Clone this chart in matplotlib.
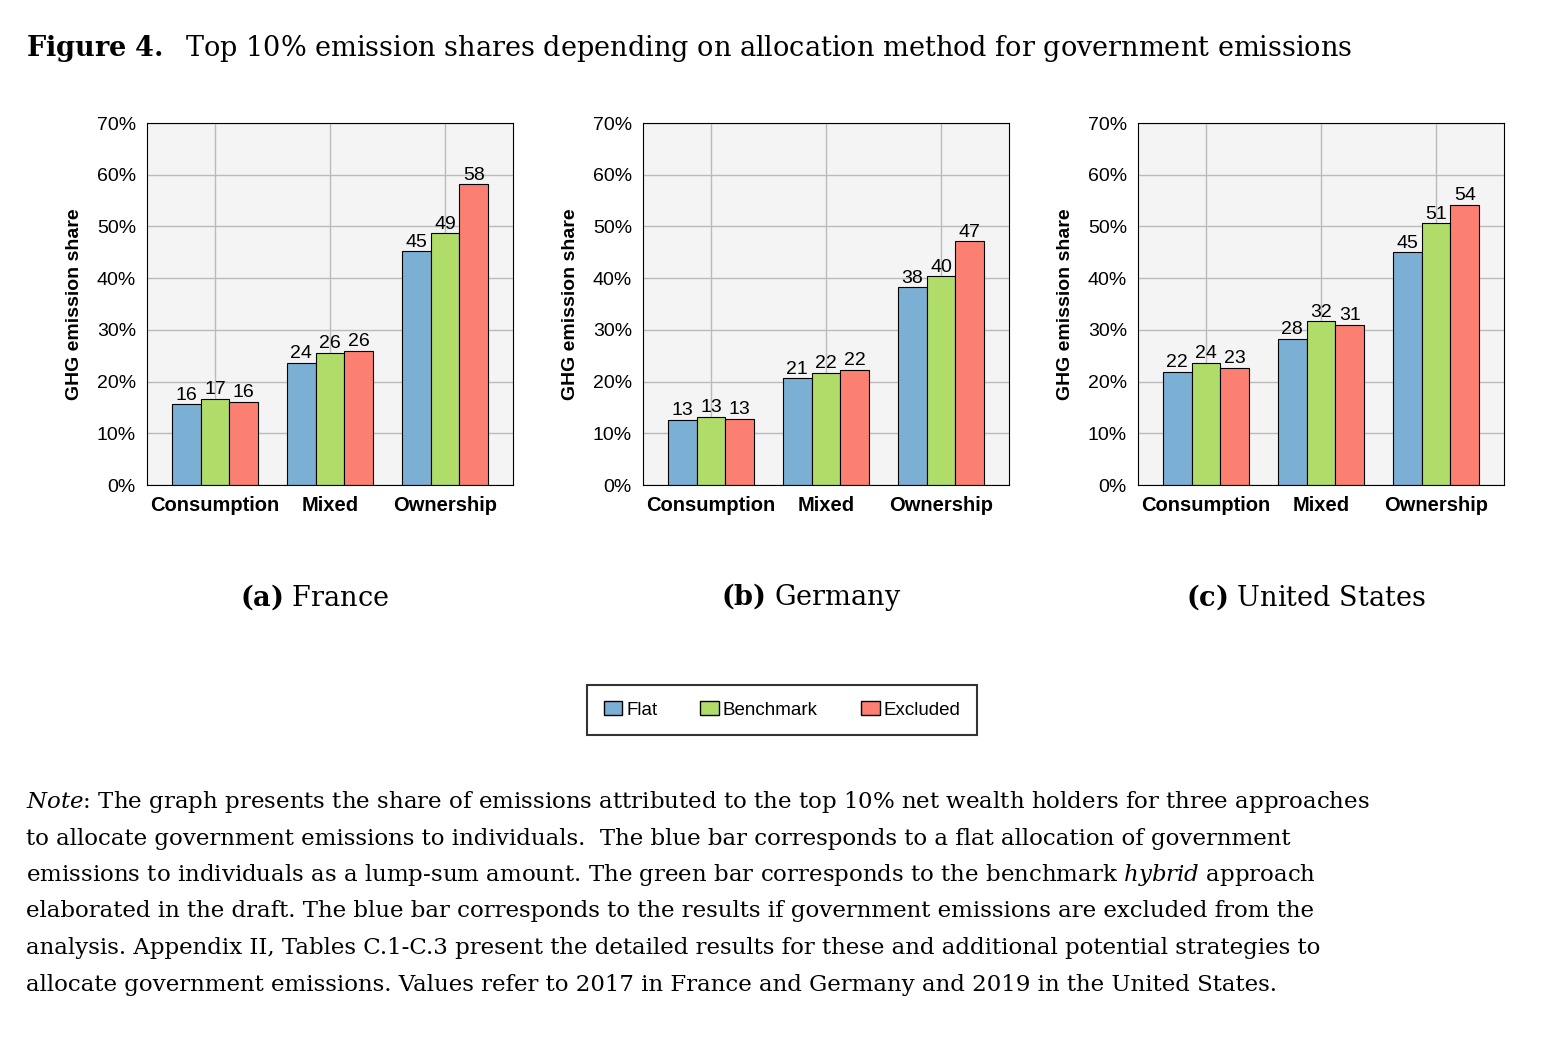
import matplotlib
matplotlib.use('Agg')
import matplotlib.pyplot as plt
import numpy as np
from matplotlib.patches import Patch

categories = ['Consumption', 'Mixed', 'Ownership']
series = ['Flat', 'Benchmark', 'Excluded']
colors = ['#7bafd4', '#b0dd6a', '#fb8072']
panels = ['France', 'Germany', 'United States']
panel_tags = ['(a)', '(b)', '(c)']

france = [[15.6, 23.6, 45.2], [16.7, 25.6, 48.7], [16.1, 26.0, 58.2]]
germany = [[12.6, 20.6, 38.2], [13.2, 21.7, 40.4], [12.8, 22.3, 47.1]]
usa = [[21.9, 28.3, 45.0], [23.6, 31.7, 50.6], [22.7, 31.0, 54.2]]
data = [france, germany, usa]

sans = 'Liberation Sans'
serif = 'DejaVu Serif'
plt.rcParams['mathtext.fontset'] = 'custom'
plt.rcParams['mathtext.rm'] = 'DejaVu Serif'
plt.rcParams['mathtext.it'] = 'DejaVu Serif:italic'
plt.rcParams['mathtext.bf'] = 'DejaVu Serif:bold'

fig = plt.figure(figsize=(15.56, 10.48), dpi=100)
lefts = [147, 643, 1138]
x = np.arange(len(categories))
w = 0.25
for k, vals in enumerate(data):
    ax = fig.add_axes([lefts[k]/1556, 1-485/1048, 366/1556, 362/1048])
    ax.set_facecolor('#f4f4f4')
    ax.set_axisbelow(True)
    ax.grid(True, color='#bbbbbb', linewidth=1)
    for i, s in enumerate(vals):
        bars = ax.bar(x + (i-1)*w, s, w, color=colors[i], edgecolor='black', linewidth=0.8)
        for b, v in zip(bars, s):
            ax.text(b.get_x() + b.get_width()/2, v + 0.1, f'{v:.0f}', ha='center', va='bottom',
                    fontsize=14, family=sans)
    ax.set_xlim(-0.59, 2.59)
    ax.set_ylim(0, 70)
    ax.set_yticks(range(0, 71, 10))
    ax.set_yticklabels([f'{t}%' for t in range(0, 71, 10)], fontsize=14, family=sans)
    ax.set_xticks(x)
    ax.set_xticklabels(categories, fontsize=14.5, fontweight='bold', family=sans)
    ax.tick_params(length=0, pad=8)
    ax.set_ylabel('GHG emission share', fontsize=14, fontweight='bold', family=sans, labelpad=10)
    cx = (lefts[k] + 168)/1556
    fig.text(cx, 1-597/1048, f'$\\bf{{{panel_tags[k]}}}$ {panels[k]}', ha='center', va='center',
             fontsize=19.5, family=serif)

fig.text(0.017, 1-48/1048, r'$\bf{Figure\ 4.}$  Top 10% emission shares depending on allocation method for government emissions',
         ha='left', va='center', fontsize=19.5, family=serif)

handles = [Patch(facecolor=c, edgecolor='black', label=s) for c, s in zip(colors, series)]
leg = fig.legend(handles=handles, loc='center', bbox_to_anchor=(782/1556, 1-710/1048), ncol=3,
                 prop={'family': sans, 'size': 13.5}, frameon=True, fancybox=False,
                 edgecolor='black', handlelength=1, handletextpad=0.2, columnspacing=2.3,
                 borderpad=0.9)
leg.get_frame().set_linewidth(1.5)

note = [
    r'$\it{Note}$: The graph presents the share of emissions attributed to the top 10% net wealth holders for three approaches',
    'to allocate government emissions to individuals.  The blue bar corresponds to a flat allocation of government',
    r'emissions to individuals as a lump-sum amount. The green bar corresponds to the benchmark $\it{hybrid}$ approach',
    'elaborated in the draft. The blue bar corresponds to the results if government emissions are excluded from the',
    'analysis. Appendix II, Tables C.1-C.3 present the detailed results for these and additional potential strategies to',
    'allocate government emissions. Values refer to 2017 in France and Germany and 2019 in the United States.',
]
for i, line in enumerate(note):
    fig.text(0.017, 1-(802 + i*36.5)/1048, line, ha='left', va='center', fontsize=16.5, family=serif)

fig.savefig('out.png', dpi=100)
